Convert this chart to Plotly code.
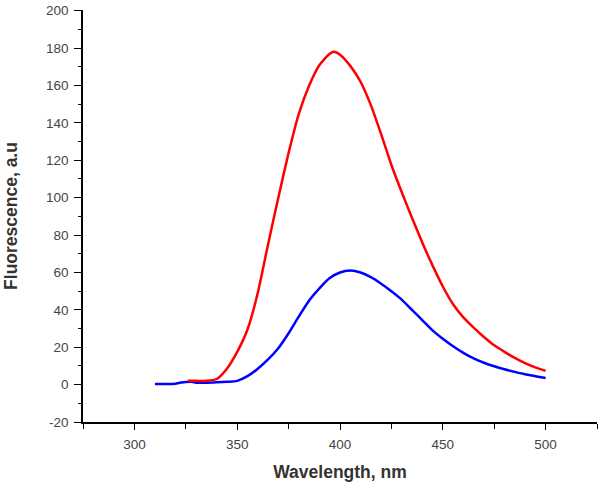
import plotly.graph_objects as go

# Red spectrum
red_wl = [326, 330, 335, 340, 345, 350, 355, 360, 365, 370, 375, 380, 385, 390, 395, 397,
          400, 405, 410, 415, 420, 425, 430, 435, 440, 445, 450, 455, 460, 465, 470, 475,
          480, 485, 490, 495, 500]
red_val = [2.0, 2.0, 2.0, 3.0, 8.5, 17.5, 29.5, 49, 75, 100, 124, 145, 160, 171, 177, 178,
           176.5, 170.5, 162, 149.5, 134, 117.5, 103, 89.3, 76, 63.8, 52.5, 43, 36, 30.5,
           25.5, 21, 17.5, 14.3, 11.5, 9.2, 7.4]

# Blue spectrum
blue_wl = [310, 315, 320, 322, 328, 330, 335, 340, 345, 350, 355, 360, 365, 370, 375, 380,
           385, 390, 395, 400, 405, 410, 415, 420, 425, 430, 435, 440, 445, 450, 455, 460,
           465, 470, 475, 480, 485, 490, 495, 500]
blue_val = [0.3, 0.3, 0.5, 1.0, 1.5, 1.0, 1.0, 1.2, 1.5, 2, 4.5, 8.5, 13.5, 19.5, 27.5, 36.5,
            45, 51.5, 57, 60, 61, 60, 57.5, 54, 50, 45.5, 40, 34.5, 29, 24.5, 20.5, 17,
            14, 11.7, 9.8, 8.2, 6.8, 5.5, 4.5, 3.5]

# Tick labels
x_tick_vals = [300, 350, 400, 450, 500]
x_tick_text = ["300", "350", "400", "450", "500"]
y_tick_vals = [-20, 0, 20, 40, 60, 80, 100, 120, 140, 160, 180, 200]
y_tick_text = ["-20", "0", "20", "40", "60", "80", "100", "120", "140", "160", "180", "200"]

fig = go.Figure()
fig.add_trace(go.Scatter(x=blue_wl, y=blue_val, mode="lines",
                         line=dict(color="#0000ff", width=2.5, shape="spline", smoothing=0.6),
                         showlegend=False))
fig.add_trace(go.Scatter(x=red_wl, y=red_val, mode="lines",
                         line=dict(color="#ff0000", width=2.5, shape="spline", smoothing=0.6),
                         showlegend=False))

tick_font = dict(family="Liberation Sans, Arial, sans-serif", size=13.5, color="#444444")
title_font = dict(family="Liberation Sans, Arial, sans-serif", size=17.5, color="#333333")

fig.update_layout(
    width=600, height=484,
    margin=dict(l=83, r=3, t=7, b=62),
    paper_bgcolor="white", plot_bgcolor="white",
    xaxis=dict(
        range=[275, 525], tickmode="array", tickvals=x_tick_vals, ticktext=x_tick_text,
        showgrid=False, zeroline=False,
        showline=True, linecolor="black", linewidth=1.5,
        ticks="outside", ticklen=6, tickwidth=1.2, tickcolor="black",
        tickfont=tick_font, ticklabelstandoff=3,
        minor=dict(ticks="outside", dtick=25, tick0=275, ticklen=5, tickwidth=1.2,
                   tickcolor="black", showgrid=False),
        title=dict(text="<b>Wavelength, nm</b>", font=title_font, standoff=15),
    ),
    yaxis=dict(
        range=[-20, 200.4], tickmode="array", tickvals=y_tick_vals, ticktext=y_tick_text,
        showgrid=False, zeroline=False,
        showline=True, linecolor="black", linewidth=1.5,
        ticks="outside", ticklen=7, tickwidth=1.2, tickcolor="black",
        tickfont=tick_font, ticklabelstandoff=3,
        minor=dict(ticks="outside", dtick=10, tick0=0, ticklen=3, tickwidth=1.2,
                   tickcolor="black", showgrid=False),
        title=dict(text="<b>Fluorescence, a.u</b>", font=title_font, standoff=24),
    ),
)

fig.write_html("out.html", config={"displayModeBar": False},
               post_script="document.body.style.margin='0';")
